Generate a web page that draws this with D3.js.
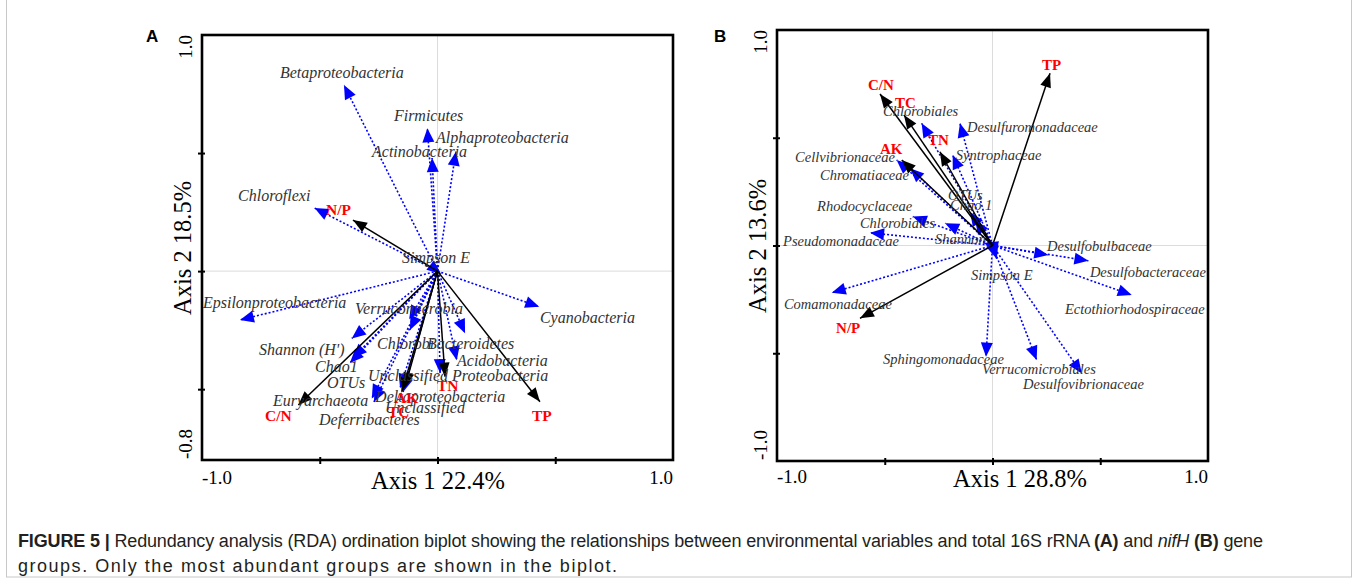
<!DOCTYPE html>
<html>
<head>
<meta charset="utf-8">
<script src="https://cdn.jsdelivr.net/npm/d3@7"></script>
<style>
  body { margin: 0; background: #fff; }
  svg text { font-family: "Liberation Serif", "Times New Roman", serif; }
</style>
</head>
<body>
<svg id="fig" width="1358" height="583"></svg>
<script>
// ---- data: arrow tips in axis units ----
// panel A: total 16S rRNA
const envA = [
  { name: 'N/P', x: -0.359, y: 0.216 },
  { name: 'C/N', x: -0.591, y: -0.567 },
  { name: 'AK',  x: -0.138, y: -0.490 },
  { name: 'TC',  x: -0.152, y: -0.511 },
  { name: 'TN',  x: 0.032,  y: -0.447 },
  { name: 'TP',  x: 0.435,  y: -0.553 },
];
const taxaA = [
  { name: 'Betaproteobacteria',          x: -0.397, y: 0.788 },
  { name: 'Firmicutes',                  x: -0.043, y: 0.605 },
  { name: 'Alphaproteobacteria',         x: 0.078,  y: 0.506 },
  { name: 'Actinobacteria',              x: -0.023, y: 0.479 },
  { name: 'Chloroflexi',                 x: -0.522, y: 0.267 },
  { name: 'Epsilonproteobacteria',       x: -0.839, y: -0.207 },
  { name: 'Cyanobacteria',               x: 0.432,  y: -0.151 },
  { name: 'Verrucomicrobia',             x: -0.120, y: -0.204 },
  { name: 'Chlorobi',                    x: -0.117, y: -0.249 },
  { name: "Shannon (H')",                x: -0.364, y: -0.285 },
  { name: 'Chao1',                       x: -0.359, y: -0.368 },
  { name: 'OTUs',                        x: -0.372, y: -0.389 },
  { name: 'Euryarchaeota',               x: -0.279, y: -0.539 },
  { name: 'Deferribacteres',             x: -0.270, y: -0.554 },
  { name: 'Bacteroidetes',               x: 0.117,  y: -0.263 },
  { name: 'Acidobacteria',               x: 0.082,  y: -0.377 },
  { name: 'Unclassified Proteobacteria', x: 0.011,  y: -0.432 },
  { name: 'Deltaproteobacteria',         x: -0.146, y: -0.512 },
  { name: 'Unclassified',                x: -0.159, y: -0.495 },
  { name: 'Simpson E',                   x: 0.015,  y: -0.012 },
];
// label anchors (start of text, baseline) in axis units
const labelsA = [
  { text: 'Betaproteobacteria', x: -0.669, y: 0.818 },
  { text: 'Firmicutes', x: -0.185, y: 0.636 },
  { text: 'Alphaproteobacteria', x: -0.006, y: 0.543 },
  { text: 'Actinobacteria', x: -0.278, y: 0.483 },
  { text: 'Chloroflexi', x: -0.847, y: 0.297 },
  { text: 'Simpson E', x: -0.151, y: 0.034 },
  { text: 'Epsilonproteobacteria', x: -0.996, y: -0.156 },
  { text: 'Verrucomicrobia', x: -0.350, y: -0.182 },
  { text: 'Cyanobacteria', x: 0.435, y: -0.220 },
  { text: "Shannon (H')", x: -0.758, y: -0.355 },
  { text: 'Chlorobi', x: -0.257, y: -0.330 },
  { text: 'Bacteroidetes', x: -0.045, y: -0.330 },
  { text: 'Acidobacteria', x: 0.083, y: -0.402 },
  { text: 'Chao1', x: -0.520, y: -0.427 },
  { text: 'Unclassified Proteobacteria', x: -0.295, y: -0.465 },
  { text: 'OTUs', x: -0.469, y: -0.495 },
  { text: 'Euryarchaeota', x: -0.699, y: -0.571 },
  { text: 'Deltaproteobacteria', x: -0.265, y: -0.554 },
  { text: 'Unclassified', x: -0.223, y: -0.600 },
  { text: 'Deferribacteres', x: -0.503, y: -0.652 },
  { text: 'N/P', x: -0.473, y: 0.238, env: true },
  { text: 'TN', x: -0.002, y: -0.508, env: true },
  { text: 'AK', x: -0.180, y: -0.559, env: true },
  { text: 'TC', x: -0.210, y: -0.618, env: true },
  { text: 'C/N', x: -0.732, y: -0.635, env: true },
  { text: 'TP', x: 0.401, y: -0.635, env: true },
];

// panel B: nifH
const envB = [
  { name: 'TP',  x: 0.267,  y: 0.799 },
  { name: 'C/N', x: -0.522, y: 0.703 },
  { name: 'TC',  x: -0.411, y: 0.606 },
  { name: 'TN',  x: -0.244, y: 0.435 },
  { name: 'AK',  x: -0.421, y: 0.397 },
  { name: 'N/P', x: -0.615, y: -0.338 },
];
const taxaB = [
  { name: 'Chlorobiales',           x: -0.329, y: 0.567 },
  { name: 'Desulfuromonadaceae',    x: -0.151, y: 0.567 },
  { name: 'Syntrophaceae',          x: -0.185, y: 0.420 },
  { name: 'Cellvibrionaceae',       x: -0.445, y: 0.397 },
  { name: 'Chromatiaceae',          x: -0.383, y: 0.358 },
  { name: 'OTUs',                   x: -0.104, y: 0.155 },
  { name: 'Chao 1',                 x: -0.081, y: 0.118 },
  { name: 'Rhodocyclaceae',         x: -0.370, y: 0.134 },
  { name: 'Chlorobiales',           x: -0.220, y: 0.103 },
  { name: 'Pseudomonadaceae',       x: -0.568, y: 0.059 },
  { name: 'Shannon',                x: -0.040, y: 0.012 },
  { name: 'Desulfobulbaceae',       x: 0.259,  y: -0.044 },
  { name: 'Desulfobacteraceae',     x: 0.445,  y: -0.071 },
  { name: 'Ectothiorhodospiraceae', x: 0.646,  y: -0.230 },
  { name: 'Simpson E',              x: 0.020,  y: -0.063 },
  { name: 'Comamonadaceae',         x: -0.746, y: -0.219 },
  { name: 'Sphingomonadaceae',      x: -0.030, y: -0.516 },
  { name: 'Verrucomicrobiales',     x: 0.205,  y: -0.531 },
  { name: 'Desulfovibrionaceae',    x: 0.414,  y: -0.593 },
];
const labelsB = [
  { text: 'Chlorobiales', x: -0.508, y: 0.601 },
  { text: 'Desulfuromonadaceae', x: -0.118, y: 0.527 },
  { text: 'Cellvibrionaceae', x: -0.916, y: 0.387 },
  { text: 'Syntrophaceae', x: -0.170, y: 0.399 },
  { text: 'Chromatiaceae', x: -0.800, y: 0.306 },
  { text: 'OTUs', x: -0.206, y: 0.211 },
  { text: 'Chao 1', x: -0.197, y: 0.167 },
  { text: 'Rhodocyclaceae', x: -0.814, y: 0.162 },
  { text: 'Chlorobiales', x: -0.615, y: 0.081 },
  { text: 'Pseudomonadaceae', x: -0.972, y: -0.002 },
  { text: 'Shannon', x: -0.267, y: 0.007 },
  { text: 'Desulfobulbaceae', x: 0.253, y: -0.026 },
  { text: 'Desulfobacteraceae', x: 0.452, y: -0.146 },
  { text: 'Simpson E', x: -0.100, y: -0.160 },
  { text: 'Comamonadaceae', x: -0.968, y: -0.295 },
  { text: 'Ectothiorhodospiraceae', x: 0.336, y: -0.320 },
  { text: 'Sphingomonadaceae', x: -0.508, y: -0.550 },
  { text: 'Verrucomicrobiales', x: -0.049, y: -0.594 },
  { text: 'Desulfovibrionaceae', x: 0.142, y: -0.668 },
  { text: 'TP', x: 0.230, y: 0.814, env: true },
  { text: 'C/N', x: -0.578, y: 0.722, env: true },
  { text: 'TC', x: -0.452, y: 0.638, env: true },
  { text: 'TN', x: -0.299, y: 0.466, env: true },
  { text: 'AK', x: -0.522, y: 0.425, env: true },
  { text: 'N/P', x: -0.726, y: -0.406, env: true },
];

const svg = d3.select('#fig');

// thin frame around the whole figure
svg.append('rect')
  .attr('x', 6.5).attr('y', -5).attr('width', 1345).attr('height', 582)
  .attr('fill', 'none').attr('stroke', '#c8c8c8').attr('stroke-width', 1);

function arrowHead(g, ox, oy, tx, ty, len, half, color) {
  const dx = tx - ox, dy = ty - oy;
  const d = Math.hypot(dx, dy) || 1;
  const ux = dx / d, uy = dy / d;
  const bx = tx - ux * len, by = ty - uy * len;
  g.append('path')
    .attr('d', `M${tx},${ty}L${bx - uy * half},${by + ux * half}L${bx + uy * half},${by - ux * half}Z`)
    .attr('fill', color);
}

function drawPanel(o) {
  const x = d3.scaleLinear().domain([-1, 1]).range(o.xRange);
  const y = d3.scaleLinear().domain(o.yDomain).range(o.yRange);
  const g = svg.append('g');
  const [xl, xr] = o.xRange, [yb, yt] = o.yRange;

  // zero grid lines
  g.append('line').attr('x1', x(0)).attr('x2', x(0)).attr('y1', yt).attr('y2', yb)
    .attr('stroke', '#dcdcdc').attr('stroke-width', 1);
  g.append('line').attr('x1', xl).attr('x2', xr).attr('y1', y(0)).attr('y2', y(0))
    .attr('stroke', '#dcdcdc').attr('stroke-width', 1);

  // taxa arrows (blue, dotted)
  const ox = x(0), oy = y(0);
  o.taxa.forEach(d => {
    const tx = x(d.x), ty = y(d.y);
    g.append('line').attr('x1', ox).attr('y1', oy).attr('x2', tx).attr('y2', ty)
      .attr('stroke', '#0000ff').attr('stroke-width', 1.6).attr('stroke-dasharray', '2,2');
    arrowHead(g, ox, oy, tx, ty, 14, 6, '#0000ff');
  });
  // environmental arrows (black)
  o.env.forEach(d => {
    const tx = x(d.x), ty = y(d.y);
    g.append('line').attr('x1', ox).attr('y1', oy).attr('x2', tx).attr('y2', ty)
      .attr('stroke', '#000').attr('stroke-width', 1.5);
    arrowHead(g, ox, oy, tx, ty, 14, 5.5, '#000');
  });

  // labels
  g.selectAll('text.lab').data(o.labels).join('text')
    .attr('class', 'lab')
    .attr('x', d => x(d.x)).attr('y', d => y(d.y))
    .attr('font-size', d => d.env ? o.envSize : o.labSize)
    .attr('font-style', d => d.env ? 'normal' : 'italic')
    .attr('font-weight', d => d.env ? 700 : 400)
    .attr('fill', d => d.env ? '#ff0000' : '#333')
    .text(d => d.text);

  // frame
  g.append('rect').attr('x', xl).attr('y', yt).attr('width', xr - xl).attr('height', yb - yt)
    .attr('fill', 'none').attr('stroke', '#000').attr('stroke-width', 2.6);

  // tick marks
  const yAx = g.append('g').attr('transform', `translate(${xl + 3},0)`)
    .call(d3.axisLeft(y).tickValues(o.yTicks).tickSize(7).tickFormat(''));
  const xAx = g.append('g').attr('transform', `translate(0,${yb - 3})`)
    .call(d3.axisBottom(x).tickValues([-0.5, 0, 0.5]).tickSize(7).tickFormat(''));
  [yAx, xAx].forEach(a => {
    a.select('.domain').remove();
    a.selectAll('line').attr('stroke', '#000').attr('stroke-width', 2);
  });

  // end labels of the axes
  const tf = 19;
  g.append('text').attr('x', xl).attr('y', o.xLabY).attr('font-size', tf).text('-1.0');
  g.append('text').attr('x', xr).attr('y', o.xLabY).attr('font-size', tf)
    .attr('text-anchor', 'end').text('1.0');
  g.append('text').attr('transform', `translate(${xl - 10},${yt}) rotate(-90)`)
    .attr('font-size', tf).attr('text-anchor', 'end').text(o.yEnds[0]);
  g.append('text').attr('transform', `translate(${xl - 10},${yb - 1}) rotate(-90)`)
    .attr('font-size', tf).attr('text-anchor', 'start').text(o.yEnds[1]);

  // axis titles
  g.append('text').attr('x', o.xTitleX).attr('y', o.xTitleY).attr('font-size', 24.5)
    .attr('text-anchor', 'middle').text(o.xTitle);
  g.append('text').attr('transform', `translate(${xl - 11},${o.yTitleY}) rotate(-90)`)
    .attr('font-size', 24.5).attr('text-anchor', 'middle').text(o.yTitle);

  // panel letter
  g.append('text').attr('x', o.letterX).attr('y', 42)
    .style('font-family', '"Liberation Sans", Arial, sans-serif')
    .attr('font-size', 17).attr('font-weight', 700).text(o.letter);
}

drawPanel({
  xRange: [202, 673], yRange: [460, 35], yDomain: [-0.8, 1], yTicks: [0.5, 0, -0.5],
  env: envA, taxa: taxaA, labels: labelsA, labSize: 16, envSize: 15.5,
  yEnds: ['1.0', '-0.8'], xLabY: 484,
  xTitle: 'Axis 1 22.4%', xTitleX: 438, xTitleY: 489,
  yTitle: 'Axis 2 18.5%', yTitleY: 248,
  letter: 'A', letterX: 146,
});
drawPanel({
  xRange: [777, 1208], yRange: [461, 30], yDomain: [-1, 1], yTicks: [0.5, 0, -0.5],
  env: envB, taxa: taxaB, labels: labelsB, labSize: 14.5, envSize: 15,
  yEnds: ['1.0', '-1.0'], xLabY: 483,
  xTitle: 'Axis 1 28.8%', xTitleX: 1020, xTitleY: 487,
  yTitle: 'Axis 2 13.6%', yTitleY: 246,
  letter: 'B', letterX: 714,
});

// caption
const cap = svg.append('g')
  .style('font-family', '"Liberation Sans", Arial, sans-serif')
  .attr('font-size', 18).attr('fill', '#231f20');
const l1 = cap.append('text').attr('x', 18).attr('y', 547).style('font-family', 'inherit')
  .attr('textLength', 1245).attr('lengthAdjust', 'spacing');
l1.append('tspan').attr('font-weight', 700).text('FIGURE 5 | ');
l1.append('tspan').text('Redundancy analysis (RDA) ordination biplot showing the relationships between environmental variables and total 16S rRNA ');
l1.append('tspan').attr('font-weight', 700).text('(A)');
l1.append('tspan').text(' and ');
l1.append('tspan').attr('font-style', 'italic').text('nifH');
l1.append('tspan').text(' ');
l1.append('tspan').attr('font-weight', 700).text('(B)');
l1.append('tspan').text(' gene');
cap.append('text').attr('x', 18).attr('y', 572).style('font-family', 'inherit')
  .attr('textLength', 599).attr('lengthAdjust', 'spacing')
  .text('groups. Only the most abundant groups are shown in the biplot.');
</script>
</body>
</html>
